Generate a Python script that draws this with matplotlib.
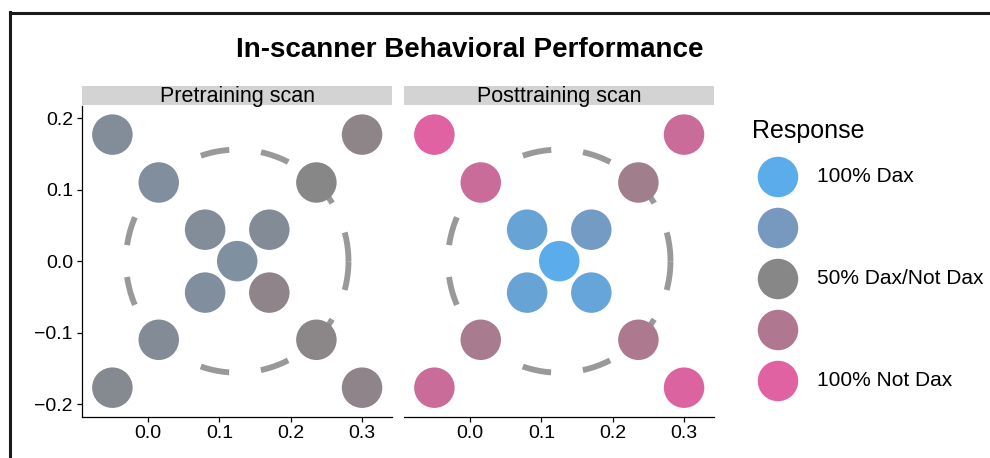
import numpy as np
import matplotlib.pyplot as plt
from matplotlib.colors import LinearSegmentedColormap
from matplotlib.lines import Line2D

plt.rcParams['font.family'] = ['Liberation Sans', 'DejaVu Sans']
plt.rcParams['lines.scale_dashes'] = False

# stimulus positions (same in both scans)
pos_x = [-0.05, 0.015, 0.30, 0.236, 0.08, 0.17, 0.125, 0.08, 0.17, 0.015, 0.236, -0.05, 0.30]
pos_y = [0.177, 0.11, 0.177, 0.11, 0.044, 0.044, 0.0, -0.044, -0.044, -0.11, -0.11, -0.177, -0.177]

# proportion of "Dax" responses per position
pre_dax = [0.58, 0.60, 0.46, 0.50, 0.58, 0.57, 0.62, 0.60, 0.45, 0.57, 0.48, 0.54, 0.45]
post_dax = [0.00, 0.12, 0.12, 0.35, 0.88, 0.78, 1.00, 0.88, 0.90, 0.30, 0.27, 0.12, 0.03]

panels = ["Pretraining scan", "Posttraining scan"]
panel_values = [pre_dax, post_dax]

circle_center = (0.125, 0.0)
circle_radius = 0.156

x_ticks = [0.0, 0.1, 0.2, 0.3]
y_ticks = [-0.2, -0.1, 0.0, 0.1, 0.2]

legend_values = [1.0, 0.75, 0.5, 0.25, 0.0]
legend_labels = ["100% Dax", "", "50% Dax/Not Dax", "", "100% Not Dax"]

cmap = LinearSegmentedColormap.from_list(
    "dax", [(0, '#E062A2'), (0.25, '#B07890'), (0.5, '#878787'),
            (0.75, '#7799BE'), (1, '#5AACEA')])

W, H = 990, 458
fig = plt.figure(figsize=(W / 100, H / 100), dpi=100)

def fr(x0, y0, x1, y1):
    # pixel box -> figure fraction rect
    return [x0 / W, 1 - y1 / H, (x1 - x0) / W, (y1 - y0) / H]

panel_left = [82, 404]
theta = np.linspace(0, 2 * np.pi, 500)
for i, (name, vals) in enumerate(zip(panels, panel_values)):
    x0 = panel_left[i]
    ax = fig.add_axes(fr(x0, 106, x0 + 310, 417))
    ax.plot(circle_center[0] + circle_radius * np.cos(theta),
            circle_center[1] + circle_radius * np.sin(theta),
            color='#999999', lw=4.2, dashes=(20.9, 23), solid_capstyle='butt',
            dash_capstyle='butt', zorder=1)
    ax.scatter(pos_x, pos_y, s=850, c=vals, cmap=cmap, vmin=0, vmax=1,
               edgecolors='none', zorder=2)
    ax.set_xlim(-0.0926, 0.342)
    ax.set_ylim(-0.218, 0.217)
    ax.set_xticks(x_ticks)
    ax.set_xticklabels([f"{t:.1f}" for t in x_ticks])
    ax.tick_params(axis='both', labelsize=14, length=3.5, width=0.9,
                   direction='out', colors='black', pad=3)
    ax.tick_params(axis='x', pad=2)
    for s in ['top', 'right']:
        ax.spines[s].set_visible(False)
    ax.spines['bottom'].set_linewidth(0.9)
    ax.spines['left'].set_linewidth(0.9)
    if i == 0:
        ax.set_yticks(y_ticks)
        ax.set_yticklabels([f"{t:.1f}".replace('-', '\u2212') for t in y_ticks])
    else:
        ax.spines['left'].set_visible(False)
        ax.set_yticks([])

    strip = fig.add_axes(fr(x0, 86, x0 + 310, 105))
    strip.set_facecolor('#D3D3D3')
    strip.set_xticks([])
    strip.set_yticks([])
    for s in strip.spines.values():
        s.set_visible(False)
    strip.text(0.5, 0.45, name, ha='center', va='center', fontsize=15.5,
               transform=strip.transAxes)

fig.text(470 / W, 1 - 57 / H, "In-scanner Behavioral Performance",
         ha='center', va='baseline', fontsize=20, fontweight='bold')

# legend drawn in pixel space
leg = fig.add_axes([0, 0, 1, 1])
leg.set_xlim(0, W)
leg.set_ylim(H, 0)
leg.axis('off')
leg.patch.set_visible(False)
leg.text(752, 138, "Response", fontsize=18, va='baseline', ha='left')
key_y = [177 + 51 * k for k in range(len(legend_values))]
leg.scatter([778] * len(key_y), key_y, s=850, c=legend_values, cmap=cmap,
            vmin=0, vmax=1, edgecolors='none')
for yk, lab in zip(key_y, legend_labels):
    leg.text(817, yk, lab, fontsize=15, va='center', ha='left')

# outer frame (top and left edges)
leg.add_line(Line2D([9.5, W], [13, 13], color='#1a1a1a', lw=2.2, clip_on=False))
leg.add_line(Line2D([9.5, 9.5], [12, H], color='#1a1a1a', lw=2.2, clip_on=False))

fig.savefig("out.png", dpi=100)
